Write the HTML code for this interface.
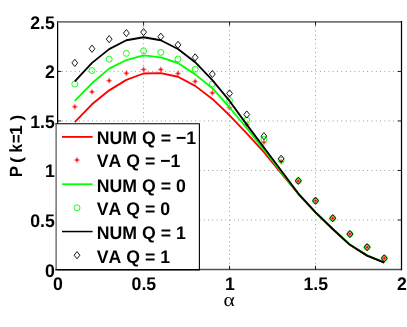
<!DOCTYPE html>
<html><head><meta charset="utf-8"><title>chart</title>
<style>html,body{margin:0;padding:0;background:#fff;}svg{display:block;}text{text-rendering:geometricPrecision;}text{font-kerning:none;font-family:"Liberation Sans",sans-serif;font-weight:bold;fill:#000;}</style></head><body>
<svg width="407" height="327" viewBox="0 0 407 327">
<defs><filter id="f" x="-10%" y="-50%" width="120%" height="200%"><feOffset dx="0" dy="0"/></filter></defs><rect width="407" height="327" fill="#fff"/>
<g stroke="#000" stroke-width="0.8" stroke-dasharray="0.9 3.4" opacity="0.55"><line x1="143.57" y1="21.9" x2="143.57" y2="269.5"/><line x1="229.55" y1="21.9" x2="229.55" y2="269.5"/><line x1="315.52" y1="21.9" x2="315.52" y2="269.5"/><line x1="57.6" y1="219.98" x2="401.5" y2="219.98"/><line x1="57.6" y1="170.46" x2="401.5" y2="170.46"/><line x1="57.6" y1="120.94" x2="401.5" y2="120.94"/><line x1="57.6" y1="71.42" x2="401.5" y2="71.42"/></g>
<path d="M57.6,269.5 V21.0" stroke="#000" stroke-width="1.25" fill="none"/>
<path d="M57.6,21.9 H401.5" stroke="#747474" stroke-width="1.8" fill="none"/>
<path d="M57.6,269.5 H401.5" stroke="#505050" stroke-width="1.7" fill="none"/>
<path d="M401.5,21.0 V270.3" stroke="#000" stroke-width="1.25" fill="none"/>
<g stroke="#000" stroke-width="0.9"><line x1="143.57" y1="269.5" x2="143.57" y2="265.9"/><line x1="143.57" y1="21.9" x2="143.57" y2="25.5"/><line x1="229.55" y1="269.5" x2="229.55" y2="265.9"/><line x1="229.55" y1="21.9" x2="229.55" y2="25.5"/><line x1="315.52" y1="269.5" x2="315.52" y2="265.9"/><line x1="315.52" y1="21.9" x2="315.52" y2="25.5"/><line x1="57.6" y1="219.98" x2="61.2" y2="219.98"/><line x1="401.5" y1="219.98" x2="397.9" y2="219.98"/><line x1="57.6" y1="170.46" x2="61.2" y2="170.46"/><line x1="401.5" y1="170.46" x2="397.9" y2="170.46"/><line x1="57.6" y1="120.94" x2="61.2" y2="120.94"/><line x1="401.5" y1="120.94" x2="397.9" y2="120.94"/><line x1="57.6" y1="71.42" x2="61.2" y2="71.42"/><line x1="401.5" y1="71.42" x2="397.9" y2="71.42"/></g>
<polyline points="74.80,122.23 91.99,104.30 109.19,90.34 126.38,79.84 143.57,73.50 160.77,73.10 177.97,76.77 195.16,85.88 212.35,98.95 229.55,115.29 246.75,133.42 263.94,152.24 281.13,173.23 298.33,194.03 315.52,212.45 332.72,228.99 349.92,244.84 367.11,255.63 384.31,262.57" fill="none" stroke="#ff0000" stroke-width="1.85" stroke-linejoin="round"/>
<g><path d="M71.59,106.68 H78.00 M74.80,103.48 V109.88" fill="none" stroke="#f00" stroke-width="1.0" stroke-opacity="0.3"/><path d="M74.80,103.98 L77.50,106.68 L74.80,109.38 L72.09,106.68 Z" fill="#f00" fill-opacity="0.45"/><circle cx="74.80" cy="106.68" r="1.05" fill="#f00"/></g><g><path d="M88.79,91.92 H95.19 M91.99,88.72 V95.12" fill="none" stroke="#f00" stroke-width="1.0" stroke-opacity="0.3"/><path d="M91.99,89.22 L94.69,91.92 L91.99,94.62 L89.29,91.92 Z" fill="#f00" fill-opacity="0.45"/><circle cx="91.99" cy="91.92" r="1.05" fill="#f00"/></g><g><path d="M105.98,80.63 H112.39 M109.19,77.43 V83.83" fill="none" stroke="#f00" stroke-width="1.0" stroke-opacity="0.3"/><path d="M109.19,77.93 L111.89,80.63 L109.19,83.33 L106.48,80.63 Z" fill="#f00" fill-opacity="0.45"/><circle cx="109.19" cy="80.63" r="1.05" fill="#f00"/></g><g><path d="M123.18,73.20 H129.58 M126.38,70.00 V76.40" fill="none" stroke="#f00" stroke-width="1.0" stroke-opacity="0.3"/><path d="M126.38,70.50 L129.08,73.20 L126.38,75.90 L123.68,73.20 Z" fill="#f00" fill-opacity="0.45"/><circle cx="126.38" cy="73.20" r="1.05" fill="#f00"/></g><g><path d="M140.38,69.54 H146.77 M143.57,66.34 V72.74" fill="none" stroke="#f00" stroke-width="1.0" stroke-opacity="0.3"/><path d="M143.57,66.84 L146.27,69.54 L143.57,72.24 L140.88,69.54 Z" fill="#f00" fill-opacity="0.45"/><circle cx="143.57" cy="69.54" r="1.05" fill="#f00"/></g><g><path d="M157.57,69.54 H163.97 M160.77,66.34 V72.74" fill="none" stroke="#f00" stroke-width="1.0" stroke-opacity="0.3"/><path d="M160.77,66.84 L163.47,69.54 L160.77,72.24 L158.07,69.54 Z" fill="#f00" fill-opacity="0.45"/><circle cx="160.77" cy="69.54" r="1.05" fill="#f00"/></g><g><path d="M174.77,73.50 H181.16 M177.97,70.30 V76.70" fill="none" stroke="#f00" stroke-width="1.0" stroke-opacity="0.3"/><path d="M177.97,70.80 L180.66,73.50 L177.97,76.20 L175.27,73.50 Z" fill="#f00" fill-opacity="0.45"/><circle cx="177.97" cy="73.50" r="1.05" fill="#f00"/></g><g><path d="M191.96,81.42 H198.36 M195.16,78.22 V84.62" fill="none" stroke="#f00" stroke-width="1.0" stroke-opacity="0.3"/><path d="M195.16,78.72 L197.86,81.42 L195.16,84.12 L192.46,81.42 Z" fill="#f00" fill-opacity="0.45"/><circle cx="195.16" cy="81.42" r="1.05" fill="#f00"/></g><g><path d="M209.16,92.91 H215.55 M212.35,89.71 V96.11" fill="none" stroke="#f00" stroke-width="1.0" stroke-opacity="0.3"/><path d="M212.35,90.21 L215.05,92.91 L212.35,95.61 L209.66,92.91 Z" fill="#f00" fill-opacity="0.45"/><circle cx="212.35" cy="92.91" r="1.05" fill="#f00"/></g><g><path d="M226.35,107.67 H232.75 M229.55,104.47 V110.87" fill="none" stroke="#f00" stroke-width="1.0" stroke-opacity="0.3"/><path d="M229.55,104.97 L232.25,107.67 L229.55,110.37 L226.85,107.67 Z" fill="#f00" fill-opacity="0.45"/><circle cx="229.55" cy="107.67" r="1.05" fill="#f00"/></g><g><path d="M243.55,124.60 H249.94 M246.75,121.40 V127.80" fill="none" stroke="#f00" stroke-width="1.0" stroke-opacity="0.3"/><path d="M246.75,121.90 L249.44,124.60 L246.75,127.30 L244.05,124.60 Z" fill="#f00" fill-opacity="0.45"/><circle cx="246.75" cy="124.60" r="1.05" fill="#f00"/></g><g><path d="M260.74,142.33 H267.14 M263.94,139.13 V145.53" fill="none" stroke="#f00" stroke-width="1.0" stroke-opacity="0.3"/><path d="M263.94,139.63 L266.64,142.33 L263.94,145.03 L261.24,142.33 Z" fill="#f00" fill-opacity="0.45"/><circle cx="263.94" cy="142.33" r="1.05" fill="#f00"/></g><g><path d="M277.94,161.65 H284.33 M281.13,158.45 V164.85" fill="none" stroke="#f00" stroke-width="1.0" stroke-opacity="0.3"/><path d="M281.13,158.95 L283.83,161.65 L281.13,164.35 L278.44,161.65 Z" fill="#f00" fill-opacity="0.45"/><circle cx="281.13" cy="161.65" r="1.05" fill="#f00"/></g><g><path d="M295.13,180.96 H301.53 M298.33,177.76 V184.16" fill="none" stroke="#f00" stroke-width="1.0" stroke-opacity="0.3"/><path d="M298.33,178.26 L301.03,180.96 L298.33,183.66 L295.63,180.96 Z" fill="#f00" fill-opacity="0.45"/><circle cx="298.33" cy="180.96" r="1.05" fill="#f00"/></g><g><path d="M312.32,200.77 H318.72 M315.52,197.57 V203.97" fill="none" stroke="#f00" stroke-width="1.0" stroke-opacity="0.3"/><path d="M315.52,198.07 L318.22,200.77 L315.52,203.47 L312.82,200.77 Z" fill="#f00" fill-opacity="0.45"/><circle cx="315.52" cy="200.77" r="1.05" fill="#f00"/></g><g><path d="M329.52,218.20 H335.92 M332.72,215.00 V221.40" fill="none" stroke="#f00" stroke-width="1.0" stroke-opacity="0.3"/><path d="M332.72,215.50 L335.42,218.20 L332.72,220.90 L330.02,218.20 Z" fill="#f00" fill-opacity="0.45"/><circle cx="332.72" cy="218.20" r="1.05" fill="#f00"/></g><g><path d="M346.72,234.04 H353.12 M349.92,230.84 V237.24" fill="none" stroke="#f00" stroke-width="1.0" stroke-opacity="0.3"/><path d="M349.92,231.34 L352.62,234.04 L349.92,236.74 L347.22,234.04 Z" fill="#f00" fill-opacity="0.45"/><circle cx="349.92" cy="234.04" r="1.05" fill="#f00"/></g><g><path d="M363.91,247.22 H370.31 M367.11,244.02 V250.42" fill="none" stroke="#f00" stroke-width="1.0" stroke-opacity="0.3"/><path d="M367.11,244.52 L369.81,247.22 L367.11,249.92 L364.41,247.22 Z" fill="#f00" fill-opacity="0.45"/><circle cx="367.11" cy="247.22" r="1.05" fill="#f00"/></g><g><path d="M381.11,258.31 H387.50 M384.31,255.11 V261.51" fill="none" stroke="#f00" stroke-width="1.0" stroke-opacity="0.3"/><path d="M384.31,255.61 L387.00,258.31 L384.31,261.01 L381.61,258.31 Z" fill="#f00" fill-opacity="0.45"/><circle cx="384.31" cy="258.31" r="1.05" fill="#f00"/></g>
<polyline points="74.80,100.83 91.99,83.30 109.19,68.65 126.38,60.03 143.57,55.38 160.77,57.36 177.97,63.00 195.16,74.39 212.35,88.16 229.55,107.47 246.75,128.27 263.94,149.56 281.13,171.85 298.33,193.73 315.52,212.45 332.72,228.99 349.92,244.44 367.11,255.24 384.31,262.27" fill="none" stroke="#00ff00" stroke-width="1.85" stroke-linejoin="round"/>
<circle cx="74.80" cy="84.10" r="3.0" fill="none" stroke="#0f0" stroke-width="0.9"/><circle cx="91.99" cy="70.53" r="3.0" fill="none" stroke="#0f0" stroke-width="0.9"/><circle cx="109.19" cy="59.14" r="3.0" fill="none" stroke="#0f0" stroke-width="0.9"/><circle cx="126.38" cy="53.39" r="3.0" fill="none" stroke="#0f0" stroke-width="0.9"/><circle cx="143.57" cy="50.82" r="3.0" fill="none" stroke="#0f0" stroke-width="0.9"/><circle cx="160.77" cy="52.40" r="3.0" fill="none" stroke="#0f0" stroke-width="0.9"/><circle cx="177.97" cy="58.94" r="3.0" fill="none" stroke="#0f0" stroke-width="0.9"/><circle cx="195.16" cy="69.24" r="3.0" fill="none" stroke="#0f0" stroke-width="0.9"/><circle cx="212.35" cy="83.90" r="3.0" fill="none" stroke="#0f0" stroke-width="0.9"/><circle cx="229.55" cy="100.54" r="3.0" fill="none" stroke="#0f0" stroke-width="0.9"/><circle cx="246.75" cy="120.05" r="3.0" fill="none" stroke="#0f0" stroke-width="0.9"/><circle cx="263.94" cy="139.16" r="3.0" fill="none" stroke="#0f0" stroke-width="0.9"/><circle cx="281.13" cy="160.16" r="3.0" fill="none" stroke="#0f0" stroke-width="0.9"/><circle cx="298.33" cy="180.96" r="3.0" fill="none" stroke="#0f0" stroke-width="0.9"/><circle cx="315.52" cy="200.77" r="3.0" fill="none" stroke="#0f0" stroke-width="0.9"/><circle cx="332.72" cy="218.20" r="3.0" fill="none" stroke="#0f0" stroke-width="0.9"/><circle cx="349.92" cy="234.04" r="3.0" fill="none" stroke="#0f0" stroke-width="0.9"/><circle cx="367.11" cy="247.22" r="3.0" fill="none" stroke="#0f0" stroke-width="0.9"/><circle cx="384.31" cy="258.31" r="3.0" fill="none" stroke="#0f0" stroke-width="0.9"/>
<polyline points="74.80,81.32 91.99,62.90 109.19,49.14 126.38,40.22 143.57,37.25 160.77,40.22 177.97,49.04 195.16,62.21 212.35,80.14 229.55,100.93 246.75,124.60 263.94,147.48 281.13,170.56 298.33,193.54 315.52,212.45 332.72,228.99 349.92,244.84 367.11,255.63 384.31,262.57" fill="none" stroke="#000000" stroke-width="1.85" stroke-linejoin="round"/>
<path d="M74.80,59.30 L77.70,62.90 L74.80,66.50 L71.89,62.90 Z" fill="none" stroke="#000" stroke-width="0.9"/><path d="M91.99,45.14 L94.89,48.74 L91.99,52.34 L89.09,48.74 Z" fill="none" stroke="#000" stroke-width="0.9"/><path d="M109.19,35.53 L112.09,39.13 L109.19,42.73 L106.28,39.13 Z" fill="none" stroke="#000" stroke-width="0.9"/><path d="M126.38,29.49 L129.28,33.09 L126.38,36.69 L123.48,33.09 Z" fill="none" stroke="#000" stroke-width="0.9"/><path d="M143.57,28.50 L146.47,32.10 L143.57,35.70 L140.67,32.10 Z" fill="none" stroke="#000" stroke-width="0.9"/><path d="M160.77,33.06 L163.67,36.66 L160.77,40.26 L157.87,36.66 Z" fill="none" stroke="#000" stroke-width="0.9"/><path d="M177.97,41.28 L180.87,44.88 L177.97,48.48 L175.06,44.88 Z" fill="none" stroke="#000" stroke-width="0.9"/><path d="M195.16,53.76 L198.06,57.36 L195.16,60.96 L192.26,57.36 Z" fill="none" stroke="#000" stroke-width="0.9"/><path d="M212.35,70.40 L215.25,74.00 L212.35,77.60 L209.45,74.00 Z" fill="none" stroke="#000" stroke-width="0.9"/><path d="M229.55,89.81 L232.45,93.41 L229.55,97.01 L226.65,93.41 Z" fill="none" stroke="#000" stroke-width="0.9"/><path d="M246.75,110.90 L249.65,114.50 L246.75,118.10 L243.84,114.50 Z" fill="none" stroke="#000" stroke-width="0.9"/><path d="M263.94,132.59 L266.84,136.19 L263.94,139.79 L261.04,136.19 Z" fill="none" stroke="#000" stroke-width="0.9"/><path d="M281.13,155.17 L284.03,158.77 L281.13,162.37 L278.24,158.77 Z" fill="none" stroke="#000" stroke-width="0.9"/><path d="M298.33,177.16 L301.23,180.76 L298.33,184.36 L295.43,180.76 Z" fill="none" stroke="#000" stroke-width="0.9"/><path d="M315.52,197.17 L318.42,200.77 L315.52,204.37 L312.62,200.77 Z" fill="none" stroke="#000" stroke-width="0.9"/><path d="M332.72,214.60 L335.62,218.20 L332.72,221.80 L329.82,218.20 Z" fill="none" stroke="#000" stroke-width="0.9"/><path d="M349.92,230.44 L352.81,234.04 L349.92,237.64 L347.02,234.04 Z" fill="none" stroke="#000" stroke-width="0.9"/><path d="M367.11,243.62 L370.01,247.22 L367.11,250.82 L364.21,247.22 Z" fill="none" stroke="#000" stroke-width="0.9"/><path d="M384.31,254.71 L387.20,258.31 L384.31,261.91 L381.41,258.31 Z" fill="none" stroke="#000" stroke-width="0.9"/>
<g filter="url(#f)"><text transform="translate(54.8,277.00) scale(1,1.035)" font-size="17.7" text-anchor="end">0</text></g>
<g filter="url(#f)"><text transform="translate(54.8,226.68) scale(1,1.035)" font-size="17.7" text-anchor="end">0.5</text></g>
<g filter="url(#f)"><text transform="translate(54.8,177.16) scale(1,1.035)" font-size="17.7" text-anchor="end">1</text></g>
<g filter="url(#f)"><text transform="translate(54.8,127.64) scale(1,1.035)" font-size="17.7" text-anchor="end">1.5</text></g>
<g filter="url(#f)"><text transform="translate(54.8,78.12) scale(1,1.035)" font-size="17.7" text-anchor="end">2</text></g>
<g filter="url(#f)"><text transform="translate(54.8,28.60) scale(1,1.035)" font-size="17.7" text-anchor="end">2.5</text></g>
<g filter="url(#f)"><text transform="translate(57.90,289.6) scale(1,1.035)" font-size="17.7" text-anchor="middle">0</text></g>
<g filter="url(#f)"><text transform="translate(143.88,289.6) scale(1,1.035)" font-size="17.7" text-anchor="middle">0.5</text></g>
<g filter="url(#f)"><text transform="translate(229.85,289.6) scale(1,1.035)" font-size="17.7" text-anchor="middle">1</text></g>
<g filter="url(#f)"><text transform="translate(315.82,289.6) scale(1,1.035)" font-size="17.7" text-anchor="middle">1.5</text></g>
<g filter="url(#f)"><text transform="translate(401.80,289.6) scale(1,1.035)" font-size="17.7" text-anchor="middle">2</text></g>
<g filter="url(#f)"><text transform="translate(229.1,305.8) scale(1.13,1)" font-size="19" text-anchor="middle" style="font-family:'Liberation Serif',serif;font-weight:normal">α</text></g>
<g filter="url(#f)"><text transform="translate(21.6,177.3) rotate(-90) scale(0.96,1.0)" font-size="17.7">P</text></g>
<g filter="url(#f)"><text transform="translate(21.6,163.1) rotate(-90) scale(1.0,0.92)" font-size="17.7">(</text></g>
<g filter="url(#f)"><text transform="translate(21.6,152.6) rotate(-90) scale(0.87,1.0)" font-size="17.7">k</text></g>
<g filter="url(#f)"><text transform="translate(21.6,142.9) rotate(-90) scale(0.83,1.0)" font-size="17.7">=</text></g>
<g filter="url(#f)"><text transform="translate(21.6,134.9) rotate(-90) scale(1.0,1.0)" font-size="17.7">1</text></g>
<g filter="url(#f)"><text transform="translate(21.6,120.6) rotate(-90) scale(0.94,0.92)" font-size="17.7">)</text></g>
<rect x="56.15" y="123.7" width="143.25" height="146.0" fill="#fff" stroke="none"/>
<path d="M56.15,269.7 V123.7" stroke="#858585" stroke-width="1.7" fill="none"/>
<path d="M55.35,123.7 H199.4 V269.7" stroke="#000" stroke-width="1.1" fill="none"/>
<path d="M55.35,269.7 H199.9" stroke="#000" stroke-width="1.6" fill="none"/>
<line x1="62" y1="136.9" x2="92.6" y2="136.9" stroke="#ff0000" stroke-width="1.8"/>
<g filter="url(#f)"><text transform="translate(96.8,143.80) scale(1,1.035)" font-size="17.7">NUM Q = −1</text></g>
<g><path d="M73.80,160.06 H80.20 M77.00,156.86 V163.26" fill="none" stroke="#f00" stroke-width="1.0" stroke-opacity="0.3"/><path d="M77.00,157.36 L79.70,160.06 L77.00,162.76 L74.30,160.06 Z" fill="#f00" fill-opacity="0.45"/><circle cx="77.00" cy="160.06" r="1.05" fill="#f00"/></g>
<g filter="url(#f)"><text transform="translate(96.8,167.46) scale(1,1.035)" font-size="17.7">VA Q = −1</text></g>
<line x1="62" y1="184.22" x2="92.6" y2="184.22" stroke="#00ff00" stroke-width="1.8"/>
<g filter="url(#f)"><text transform="translate(96.8,191.72) scale(1,1.035)" font-size="17.7">NUM Q = 0</text></g>
<circle cx="77.00" cy="207.88" r="3.0" fill="none" stroke="#0f0" stroke-width="0.9"/>
<g filter="url(#f)"><text transform="translate(96.8,215.38) scale(1,1.035)" font-size="17.7">VA Q = 0</text></g>
<line x1="62" y1="231.54000000000002" x2="92.6" y2="231.54000000000002" stroke="#000" stroke-width="1.5"/>
<g filter="url(#f)"><text transform="translate(96.8,239.44) scale(1,1.035)" font-size="17.7">NUM Q = 1</text></g>
<path d="M77.00,251.60 L79.90,255.20 L77.00,258.80 L74.10,255.20 Z" fill="none" stroke="#000" stroke-width="0.9"/>
<g filter="url(#f)"><text transform="translate(96.8,263.10) scale(1,1.035)" font-size="17.7">VA Q = 1</text></g>
</svg></body></html>
